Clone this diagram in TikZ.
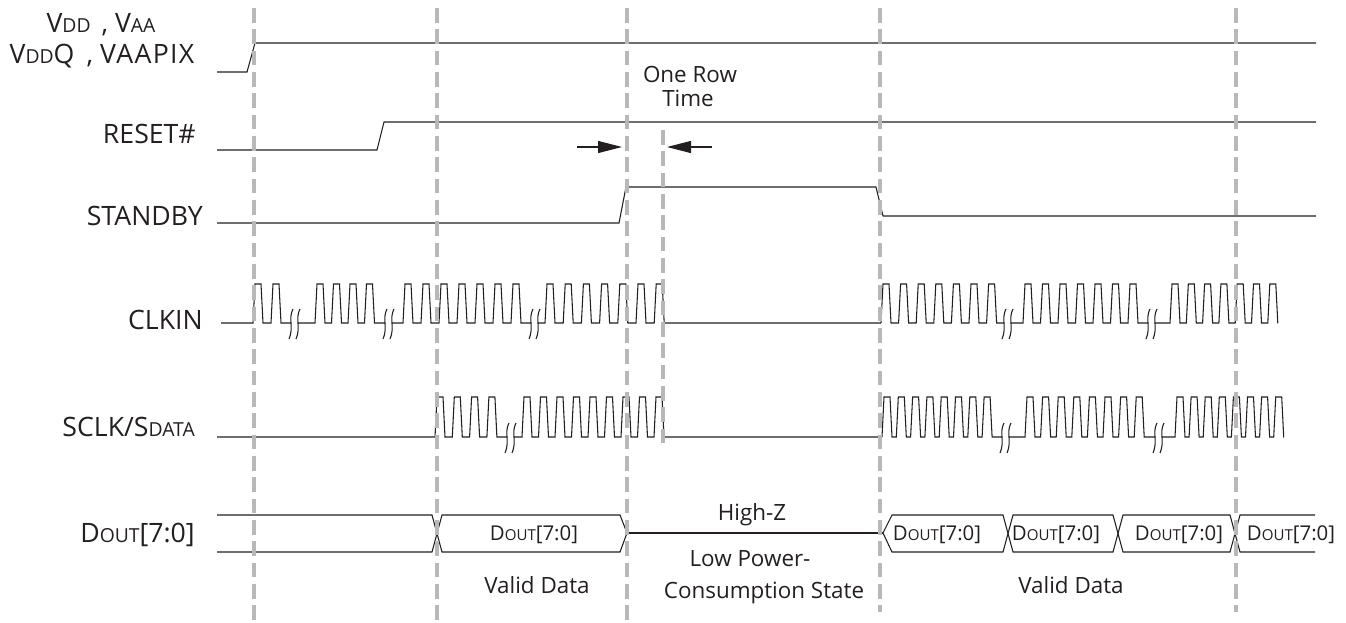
\documentclass[tikz,border=0pt]{standalone}
\usepackage{fontspec}
\setmainfont{Open Sans}
\usetikzlibrary{arrows.meta}
\definecolor{ink}{HTML}{231F20}
\definecolor{guide}{HTML}{B8B8B8}

% reduced capitals used for subscript-like parts of signal names
\newcommand\bigsc[1]{{\fontsize{14.5}{14.5}\selectfont #1}}
\newcommand\cellsc[1]{{\fontsize{11.3}{11.3}\selectfont #1}}

% a run of clock pulses: base y, top y, from x, first edge x, count, period, end x
\newcommand\clockrun[7]{%
  \draw[sig] (#3,#1) -- (#4,#1) -- ++(2,{#2-#1}) -- ++(6,0) -- ++(2,{#1-#2})
    \foreach \k in {2,...,#5}{ -- ++({#6-10},0) -- ++(2,{#2-#1}) -- ++(6,0) -- ++(2,{#1-#2}) }
    -- (#7,#1);
}
% time-break mark: two S strokes, the first centred on (x, base)
\newcommand\breakmark[2]{%
  \draw[sig] ({#1+2},{#2-14}) .. controls ({#1-3},{#2-5}) and ({#1+3},{#2+5}) .. ({#1-2},{#2+16});
  \draw[sig] ({#1+9},{#2-14}) .. controls ({#1+4},{#2-5}) and ({#1+10},{#2+5}) .. ({#1+5},{#2+16});
}

\begin{document}
\begin{tikzpicture}[x=0.75pt,y=-0.75pt,
  sig/.style={ink, line width=0.8pt, line join=miter},
  guideline/.style={guide, line width=2.3pt, dash pattern=on 11pt off 5pt},
  lbl/.style={font=\fontsize{20}{20}\selectfont, text=ink, inner sep=0pt, text height=14.3pt, text depth=0pt},
  note/.style={font=\fontsize{16.8}{16.8}\selectfont, text=ink, inner sep=0pt, text height=12pt, text depth=0pt},
  cell/.style={font=\fontsize{15.3}{15.3}\selectfont, text=ink, inner sep=0pt, text height=11pt, text depth=0pt},
  tip/.style={sig, -{Triangle[length=18pt,width=9pt]}}]
\useasboundingbox (0,0) rectangle (1346,622);

% signal names
\node[lbl] (vddvaa) at (101,23) {V\bigsc{DD}\hspace{0.15em} , V\bigsc{AA}};
\node[lbl] (vddq) at (102,54) {V\bigsc{DD}Q\hspace{0.2em} , \addfontfeature{LetterSpace=5}VAAPIX};
\node[lbl, anchor=east] (reset) at (196,134) {RESET\#};
\node[lbl, anchor=east] (stby) at (203,216) {STANDBY};
\node[lbl, anchor=east] (clkin) at (203,320) {CLKIN};
\node[lbl, anchor=east] (sclk) at (195,427) {SCLK/S\bigsc{DATA}};
\node[lbl, anchor=east] (dout) at (195,533) {D\bigsc{OUT}[7:0]};

% supplies, reset, standby
\draw[sig] (217,72) -- (247,72) -- (255,43) -- (1316,43);
\draw[sig] (217,150) -- (377,150) -- (384,122) -- (1316,122);
\draw[sig] (217,223) -- (619,223) -- (626,187) -- (876,187) -- (883,216) -- (1316,216);

% one row time
\node[note] (row1) at (690,74) {One Row};
\node[note] (row2) at (688,98) {Time};
\coordinate (rowLtail) at (577,147);
\coordinate (rowLtip) at (622,147);
\coordinate (rowRtail) at (712,147);
\coordinate (rowRtip) at (667,147);
\draw[tip] (rowLtail) -- (rowLtip);
\draw[tip] (rowRtail) -- (rowRtip);

% CLKIN
\clockrun{323}{284}{221}{253}{2}{18}{291}
\breakmark{291}{323}
\clockrun{323}{284}{298}{315}{4}{16.5}{385}
\breakmark{385}{323}
\clockrun{323}{284}{392}{403}{7}{18}{531}
\breakmark{531}{323}
\clockrun{323}{284}{538}{545}{7}{18.2}{881}
\clockrun{323}{284}{881}{881}{7}{17.6}{1004}
\breakmark{1004}{323}
\clockrun{323}{284}{1011}{1023}{7}{17.5}{1148}
\breakmark{1148}{323}
\clockrun{323}{284}{1155}{1170}{7}{16.3}{1277.8}

% SCLK / SDATA
\clockrun{437}{397}{217}{435}{4}{17.3}{507}
\breakmark{507}{437}
\clockrun{437}{397}{514}{522}{9}{16.5}{882}
\clockrun{437}{397}{882}{882}{8}{14.3}{1002}
\breakmark{1002}{437}
\clockrun{437}{397}{1009}{1025}{8}{15.6}{1155}
\breakmark{1155}{437}
\clockrun{437}{397}{1162}{1175}{8}{14.1}{1283.7}

% DOUT bus
\draw[sig] (217,515) -- (432,515) -- (442,552) -- (620,552) -- (627,533) -- (620,515) -- (442,515) -- (432,552) -- (217,552);
\draw[sig] (627,533) -- (883,533);
\draw[sig] (883,533) -- (892,515) -- (1003,515) -- (1013,552) -- (1113,552) -- (1123,515) -- (1230,515) -- (1240,552) -- (1315,552);
\draw[sig] (883,533) -- (892,552) -- (1003,552) -- (1013,515) -- (1113,515) -- (1123,552) -- (1230,552) -- (1240,515) -- (1315,515);
\node[cell] (d1) at (534,533) {D\cellsc{OUT}[7:0]};
\node[cell] (d2) at (937,533) {D\cellsc{OUT}[7:0]};
\node[cell] (d3) at (1056,533) {D\cellsc{OUT}[7:0]};
\node[cell] (d4) at (1179,533) {D\cellsc{OUT}[7:0]};
\node[cell] (d5) at (1291,533) {D\cellsc{OUT}[7:0]};

\node[note] (hz) at (752,512) {High-Z};
\node[note] (lp1) at (750,558) {Low Power-};
\node[note] (lp2) at (764,590) {Consumption State};
\node[note] (vd1) at (537,585) {Valid Data};
\node[note] (vd2) at (1071,585) {Valid Data};

% timing guides
\draw[guideline] (254,8) -- (254,622);
\draw[guideline] (437,8) -- (437,622);
\draw[guideline] (627,8) -- (627,622);
\draw[guideline] (663,130) -- (663,445);
\draw[guideline] (880,8) -- (880,612);
\draw[guideline] (1236,8) -- (1236,612);
\end{tikzpicture}
\end{document}
